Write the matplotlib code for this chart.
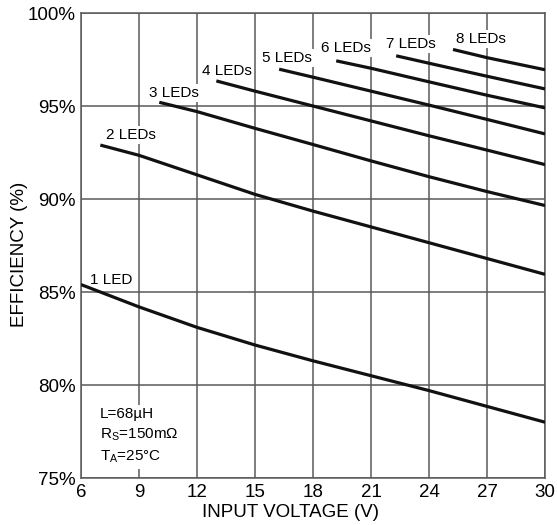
import matplotlib
matplotlib.use("Agg")
import matplotlib.pyplot as plt

plt.rcParams['font.family'] = ['Liberation Sans', 'DejaVu Sans']

# efficiency curves (input voltage V, efficiency %)
v_1led = [6, 9, 12, 15, 18, 21, 24, 27, 30]
eff_1led = [85.4, 84.2, 83.1, 82.15, 81.3, 80.5, 79.7, 78.85, 78.0]
v_2led = [7, 9, 12, 15, 18, 21, 24, 27, 30]
eff_2led = [92.9, 92.35, 91.3, 90.25, 89.35, 88.5, 87.65, 86.8, 85.95]
v_3led = [10.05, 12, 15, 18, 21, 24, 27, 30]
eff_3led = [95.2, 94.7, 93.8, 92.93, 92.05, 91.2, 90.4, 89.65]
v_4led = [13, 15, 18, 21, 24, 27, 30]
eff_4led = [96.35, 95.8, 95.0, 94.2, 93.4, 92.63, 91.85]
v_5led = [16.25, 18, 21, 24, 27, 30]
eff_5led = [96.98, 96.55, 95.8, 95.05, 94.28, 93.5]
v_6led = [19.2, 21, 24, 27, 30]
eff_6led = [97.43, 97.03, 96.3, 95.58, 94.9]
v_7led = [22.3, 24, 27, 30]
eff_7led = [97.7, 97.3, 96.6, 95.92]
v_8led = [25.24, 27, 30]
eff_8led = [98.04, 97.6, 96.95]

labels = ['1 LED', '2 LEDs', '3 LEDs', '4 LEDs', '5 LEDs', '6 LEDs', '7 LEDs', '8 LEDs']
label_x = [6.47, 7.29, 9.51, 12.25, 15.35, 18.43, 21.76, 25.38]
label_y = [85.66, 93.43, 95.7, 96.9, 97.6, 98.1, 98.32, 98.6]

x_ticks = [6, 9, 12, 15, 18, 21, 24, 27, 30]
y_ticks = [75, 80, 85, 90, 95, 100]

fig = plt.figure(figsize=(5.57, 5.25), dpi=100)
ax = fig.add_axes([0.1454, 0.0895, 0.8331, 0.8857])

curves = [(v_1led, eff_1led), (v_2led, eff_2led), (v_3led, eff_3led), (v_4led, eff_4led),
          (v_5led, eff_5led), (v_6led, eff_6led), (v_7led, eff_7led), (v_8led, eff_8led)]
for xs, ys in curves:
    ax.plot(xs, ys, color='#111111', lw=2.3, zorder=4, solid_capstyle='butt')

for lab, lx, ly in zip(labels, label_x, label_y):
    ax.text(lx, ly, lab, fontsize=11, ha='left', va='center', zorder=3,
            bbox=dict(facecolor='white', edgecolor='none', pad=1.5))

ax.text(6.98, 77.25,
        'L=68µH\nR$\\mathregular{_S}$=150mΩ\nT$\\mathregular{_A}$=25°C',
        fontsize=11, ha='left', va='center', linespacing=1.45, zorder=3,
        bbox=dict(facecolor='white', edgecolor='none', pad=3))

ax.set_xlim(6, 30)
ax.set_ylim(75, 100)
ax.set_xticks(x_ticks)
ax.set_yticks(y_ticks)
ax.set_yticklabels([str(t) + '%' for t in y_ticks])
ax.tick_params(length=0, labelsize=13.5, pad=4)
ax.grid(True, color='#5a5a5a', lw=1.1, zorder=1)
ax.set_axisbelow(True)
for s in ax.spines.values():
    s.set_color('#5a5a5a')
    s.set_linewidth(1.1)

ax.set_xlabel('INPUT VOLTAGE (V)', fontsize=13.5, labelpad=1)
ax.xaxis.set_label_coords(0.451, -0.055)
ax.set_ylabel('EFFICIENCY (%)', fontsize=13.5)
ax.yaxis.set_label_coords(-0.115, 0.48)

fig.savefig('out.png', dpi=100)
